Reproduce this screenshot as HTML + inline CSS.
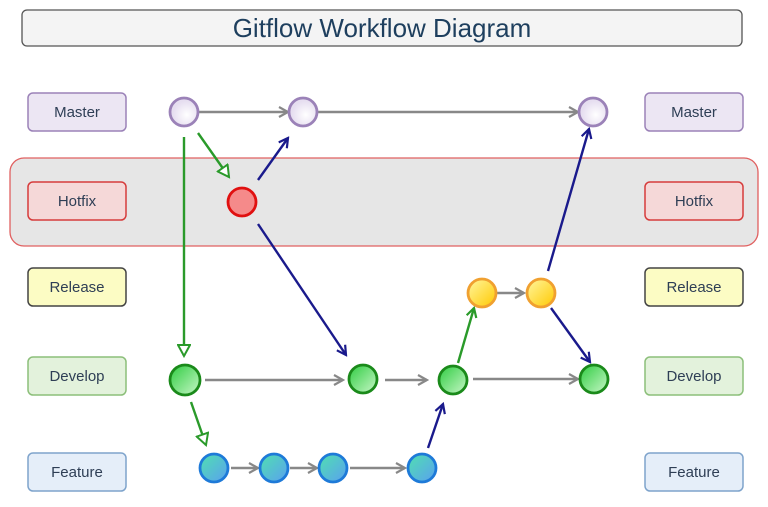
<!DOCTYPE html>
<html><head><meta charset="utf-8"><style>
body{margin:0;background:#fff;width:768px;height:502px;overflow:hidden}
text{font-family:"Liberation Sans",sans-serif}
</style></head><body>
<svg width="768" height="502" viewBox="0 0 768 502" xmlns="http://www.w3.org/2000/svg">
<defs>
<marker id="ag" markerWidth="12" markerHeight="12" refX="10" refY="6" orient="auto" markerUnits="userSpaceOnUse"><path d="M1,1 L10,6 L1,11" fill="none" stroke="#888" stroke-width="2.2"/></marker>
<marker id="ab" markerWidth="12" markerHeight="12" refX="10" refY="6" orient="auto" markerUnits="userSpaceOnUse"><path d="M1,1 L10,6 L1,11" fill="none" stroke="#1a1a8c" stroke-width="2.2"/></marker>
<marker id="agr" markerWidth="14" markerHeight="14" refX="12" refY="7" orient="auto" markerUnits="userSpaceOnUse"><path d="M1,1 L12,7 L1,13 Z" fill="#fff" stroke="#2a9a2a" stroke-width="2"/></marker>
<marker id="agf" markerWidth="12" markerHeight="12" refX="10" refY="6" orient="auto" markerUnits="userSpaceOnUse"><path d="M1,1 L10,6 L1,11" fill="none" stroke="#2a9a2a" stroke-width="2.2"/></marker>
<radialGradient id="gm" cx="0.6" cy="0.6"><stop offset="0" stop-color="#fff"/><stop offset="1" stop-color="#e6def0"/></radialGradient>
<linearGradient id="gd" x1="0" y1="0" x2="1" y2="1"><stop offset="0" stop-color="#2ecc40"/><stop offset="1" stop-color="#c8f7c8"/></linearGradient>
<linearGradient id="gf" x1="0" y1="0" x2="1" y2="1"><stop offset="0" stop-color="#50e0b0"/><stop offset="1" stop-color="#5aa0f0"/></linearGradient>
<linearGradient id="gy" x1="0" y1="0" x2="1" y2="1"><stop offset="0" stop-color="#fff7a0"/><stop offset="1" stop-color="#ffc800"/></linearGradient>
</defs>
<rect x="22" y="10" width="720" height="36" rx="5" fill="#f4f4f4" stroke="#555" stroke-width="1.3"/>
<text x="382" y="37" text-anchor="middle" font-size="26" fill="#1e3f5e">Gitflow Workflow Diagram</text>
<rect x="10" y="158" width="748" height="88" rx="14" fill="#e6e6e6" stroke="#e06060" stroke-width="1.3"/>
<g font-size="15" fill="#2e3e55" text-anchor="middle">
<rect x="28" y="93" width="98" height="38" rx="5" fill="#ece6f3" stroke="#9b82b8" stroke-width="1.5"/><text x="77" y="117">Master</text>
<rect x="645" y="93" width="98" height="38" rx="5" fill="#ece6f3" stroke="#9b82b8" stroke-width="1.5"/><text x="694" y="117">Master</text>
<rect x="28" y="182" width="98" height="38" rx="5" fill="#f5d8d8" stroke="#d63c3c" stroke-width="1.5"/><text x="77" y="206">Hotfix</text>
<rect x="645" y="182" width="98" height="38" rx="5" fill="#f5d8d8" stroke="#d63c3c" stroke-width="1.5"/><text x="694" y="206">Hotfix</text>
<rect x="28" y="268" width="98" height="38" rx="5" fill="#fcfcc4" stroke="#444" stroke-width="1.5"/><text x="77" y="292">Release</text>
<rect x="645" y="268" width="98" height="38" rx="5" fill="#fcfcc4" stroke="#444" stroke-width="1.5"/><text x="694" y="292">Release</text>
<rect x="28" y="357" width="98" height="38" rx="5" fill="#e3f2dc" stroke="#8cbf7a" stroke-width="1.5"/><text x="77" y="381">Develop</text>
<rect x="645" y="357" width="98" height="38" rx="5" fill="#e3f2dc" stroke="#8cbf7a" stroke-width="1.5"/><text x="694" y="381">Develop</text>
<rect x="28" y="453" width="98" height="38" rx="5" fill="#e5eef9" stroke="#7fa4cc" stroke-width="1.5"/><text x="77" y="477">Feature</text>
<rect x="645" y="453" width="98" height="38" rx="5" fill="#e5eef9" stroke="#7fa4cc" stroke-width="1.5"/><text x="694" y="477">Feature</text>
</g>
<g stroke-width="2.4" fill="none">
<line x1="199" y1="112" x2="288" y2="112" stroke="#888" marker-end="url(#ag)"/>
<line x1="318" y1="112" x2="578" y2="112" stroke="#888" marker-end="url(#ag)"/>
<line x1="184" y1="137" x2="184" y2="356" stroke="#2a9a2a" marker-end="url(#agr)"/>
<line x1="198" y1="133" x2="229" y2="177" stroke="#2a9a2a" marker-end="url(#agr)"/>
<line x1="258" y1="180" x2="288" y2="138" stroke="#1a1a8c" marker-end="url(#ab)"/>
<line x1="258" y1="224" x2="346" y2="355" stroke="#1a1a8c" marker-end="url(#ab)"/>
<line x1="205" y1="380" x2="343" y2="380" stroke="#888" marker-end="url(#ag)"/>
<line x1="385" y1="380" x2="427" y2="380" stroke="#888" marker-end="url(#ag)"/>
<line x1="473" y1="379" x2="578" y2="379" stroke="#888" marker-end="url(#ag)"/>
<line x1="191" y1="402" x2="206" y2="445" stroke="#2a9a2a" marker-end="url(#agr)"/>
<line x1="231" y1="468" x2="258" y2="468" stroke="#888" marker-end="url(#ag)"/>
<line x1="290" y1="468" x2="317" y2="468" stroke="#888" marker-end="url(#ag)"/>
<line x1="350" y1="468" x2="405" y2="468" stroke="#888" marker-end="url(#ag)"/>
<line x1="428" y1="448" x2="443" y2="404" stroke="#1a1a8c" marker-end="url(#ab)"/>
<line x1="458" y1="363" x2="474" y2="308" stroke="#2a9a2a" marker-end="url(#agf)"/>
<line x1="497" y1="293" x2="524" y2="293" stroke="#888" marker-end="url(#ag)"/>
<line x1="548" y1="271" x2="589" y2="129" stroke="#1a1a8c" marker-end="url(#ab)"/>
<line x1="551" y1="308" x2="590" y2="362" stroke="#1a1a8c" marker-end="url(#ab)"/>
</g>
<g stroke-width="2.8">
<circle cx="184" cy="112" r="14" fill="url(#gm)" stroke="#9b82b8"/>
<circle cx="303" cy="112" r="14" fill="url(#gm)" stroke="#9b82b8"/>
<circle cx="593" cy="112" r="14" fill="url(#gm)" stroke="#9b82b8"/>
<circle cx="242" cy="202" r="14" fill="#f58a8a" stroke="#e01010"/>
<circle cx="482" cy="293" r="14" fill="url(#gy)" stroke="#f0a030"/>
<circle cx="541" cy="293" r="14" fill="url(#gy)" stroke="#f0a030"/>
<circle cx="185" cy="380" r="15" fill="url(#gd)" stroke="#1a8a1a"/>
<circle cx="363" cy="379" r="14" fill="url(#gd)" stroke="#1a8a1a"/>
<circle cx="453" cy="380" r="14" fill="url(#gd)" stroke="#1a8a1a"/>
<circle cx="594" cy="379" r="14" fill="url(#gd)" stroke="#1a8a1a"/>
<circle cx="214" cy="468" r="14" fill="url(#gf)" stroke="#1e7ad8"/>
<circle cx="274" cy="468" r="14" fill="url(#gf)" stroke="#1e7ad8"/>
<circle cx="333" cy="468" r="14" fill="url(#gf)" stroke="#1e7ad8"/>
<circle cx="422" cy="468" r="14" fill="url(#gf)" stroke="#1e7ad8"/>
</g>
</svg>
</body></html>
